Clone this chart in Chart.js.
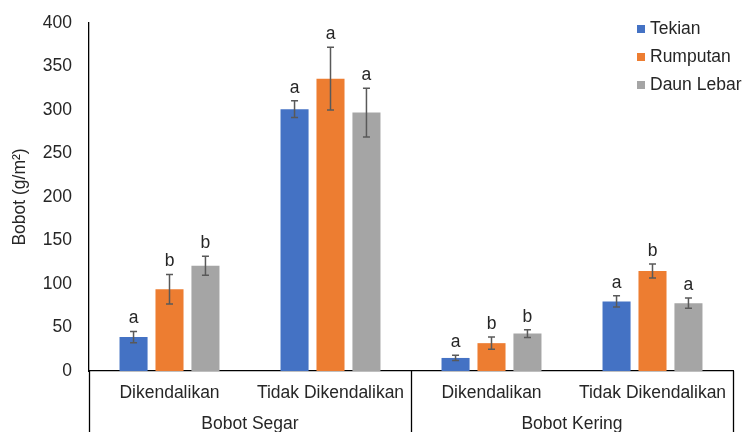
<!DOCTYPE html>
<html>
<head>
<meta charset="utf-8">
<script src="https://cdn.jsdelivr.net/npm/chart.js@4.4.1/dist/chart.umd.min.js"></script>
<style>
  html, body { margin: 0; padding: 0; background: #fff; }
  #wrap { width: 744px; height: 432px; position: relative; }
</style>
</head>
<body>
<div id="wrap"><canvas id="chart-div"></canvas></div>
<script>
// data
var categories = ['Dikendalikan', 'Tidak Dikendalikan', 'Dikendalikan', 'Tidak Dikendalikan'];
var groups = ['Bobot Segar', 'Bobot Kering'];
var yTicks = [0, 50, 100, 150, 200, 250, 300, 350, 400];

var tekian = [39, 301, 15, 80];
var rumputan = [94, 336, 32, 115];
var daunLebar = [121, 297, 43, 78];

var tekianErr = [6.5, 9.5, 3, 6.5];
var rumputanErr = [17, 36, 7, 8];
var daunLebarErr = [11, 28, 4.5, 6];

var tekianSig = ['a', 'a', 'a', 'a'];
var rumputanSig = ['b', 'a', 'b', 'b'];
var daunLebarSig = ['b', 'a', 'b', 'a'];

var textColor = '#262626',
    lineColor = '#000000',
    fontSize = 17.5,
    fontFam = '"Liberation Sans", Arial, sans-serif';

Chart.defaults.font.family = fontFam;
Chart.defaults.color = textColor;

var extras = {
    id: 'extras',
    afterDatasetsDraw: function (chart) {
        var ctx = chart.ctx, y = chart.scales.y;
        ctx.save();
        chart.data.datasets.forEach(function (ds, i) {
            var meta = chart.getDatasetMeta(i);
            meta.data.forEach(function (bar, j) {
                var v = ds.data[j], e = ds.err[j];
                var yt = y.getPixelForValue(v + e), yb = y.getPixelForValue(v - e);
                ctx.strokeStyle = '#595959';
                ctx.lineWidth = 1.5;
                ctx.beginPath();
                ctx.moveTo(bar.x, yt); ctx.lineTo(bar.x, yb);
                ctx.moveTo(bar.x - 3.5, yt); ctx.lineTo(bar.x + 3.5, yt);
                ctx.moveTo(bar.x - 3.5, yb); ctx.lineTo(bar.x + 3.5, yb);
                ctx.stroke();
                // letter
                ctx.fillStyle = textColor;
                ctx.font = fontSize + 'px ' + fontFam;
                ctx.textAlign = 'center';
                ctx.textBaseline = 'alphabetic';
                ctx.fillText(ds.sig[j], bar.x, yt - 8);
            });
        });
        ctx.restore();
    },
    afterDraw: function (chart) {
        var ctx = chart.ctx, a = chart.chartArea, x = chart.scales.x;
        var H = chart.height;
        ctx.save();
        ctx.strokeStyle = lineColor;
        ctx.lineWidth = 1.3;
        // axis lines extending into the label area
        var mid = (x.getPixelForValue(1) + x.getPixelForValue(2)) / 2;
        [a.left, mid, a.right].forEach(function (px) {
            ctx.beginPath();
            ctx.moveTo(Math.round(px) + 0.5, a.bottom);
            ctx.lineTo(Math.round(px) + 0.5, H);
            ctx.stroke();
        });
        // group labels
        ctx.fillStyle = textColor;
        ctx.font = fontSize + 'px ' + fontFam;
        ctx.textAlign = 'center';
        ctx.textBaseline = 'middle';
        ctx.fillText(groups[0], (a.left + mid) / 2, a.bottom + 53);
        ctx.fillText(groups[1], (mid + a.right) / 2, a.bottom + 53);
        // legend
        ctx.textAlign = 'left';
        chart.data.datasets.forEach(function (ds, i) {
            var ly = 29 + i * 28;
            ctx.fillStyle = ds.backgroundColor;
            ctx.fillRect(637, ly - 4, 8, 8);
            ctx.fillStyle = textColor;
            ctx.fillText(ds.label, 650, ly);
        });
        ctx.restore();
    }
};

new Chart(document.getElementById('chart-div'), {
    type: 'bar',
    data: {
        labels: categories,
        datasets: [
            { label: 'Tekian', data: tekian, err: tekianErr, sig: tekianSig, backgroundColor: '#4472C4' },
            { label: 'Rumputan', data: rumputan, err: rumputanErr, sig: rumputanSig, backgroundColor: '#ED7D31' },
            { label: 'Daun Lebar', data: daunLebar, err: daunLebarErr, sig: daunLebarSig, backgroundColor: '#A5A5A5' }
        ]
    },
    options: {
        responsive: true,
        maintainAspectRatio: false,
        animation: false,
        layout: { padding: { top: 23, right: 11, left: 0, bottom: 0 } },
        categoryPercentage: 0.67,
        barPercentage: 0.78,
        plugins: {
            legend: { display: false },
            tooltip: { enabled: false }
        },
        scales: {
            x: {
                grid: { display: false, drawTicks: false },
                border: { display: true, color: lineColor, width: 1.3 },
                ticks: { font: { size: fontSize }, color: textColor, padding: 12, maxRotation: 0, autoSkip: false },
                afterFit: function (s) { s.height = 61; s.paddingLeft = 0; s.paddingRight = 0; }
            },
            y: {
                min: 0,
                max: 400,
                afterBuildTicks: function (s) { s.ticks = yTicks.map(function (v) { return { value: v }; }); },
                grid: { display: false, drawTicks: false },
                border: { display: true, color: lineColor, width: 1.3 },
                ticks: { font: { size: fontSize }, color: textColor, padding: 17 },
                title: { display: true, text: 'Bobot (g/m²)', font: { size: fontSize }, color: textColor, padding: { top: 10, bottom: 0 } },
                afterFit: function (s) { s.width = 89; s.paddingTop = 0; s.paddingBottom = 0; }
            }
        }
    },
    plugins: [extras]
});
</script>
</body>
</html>
